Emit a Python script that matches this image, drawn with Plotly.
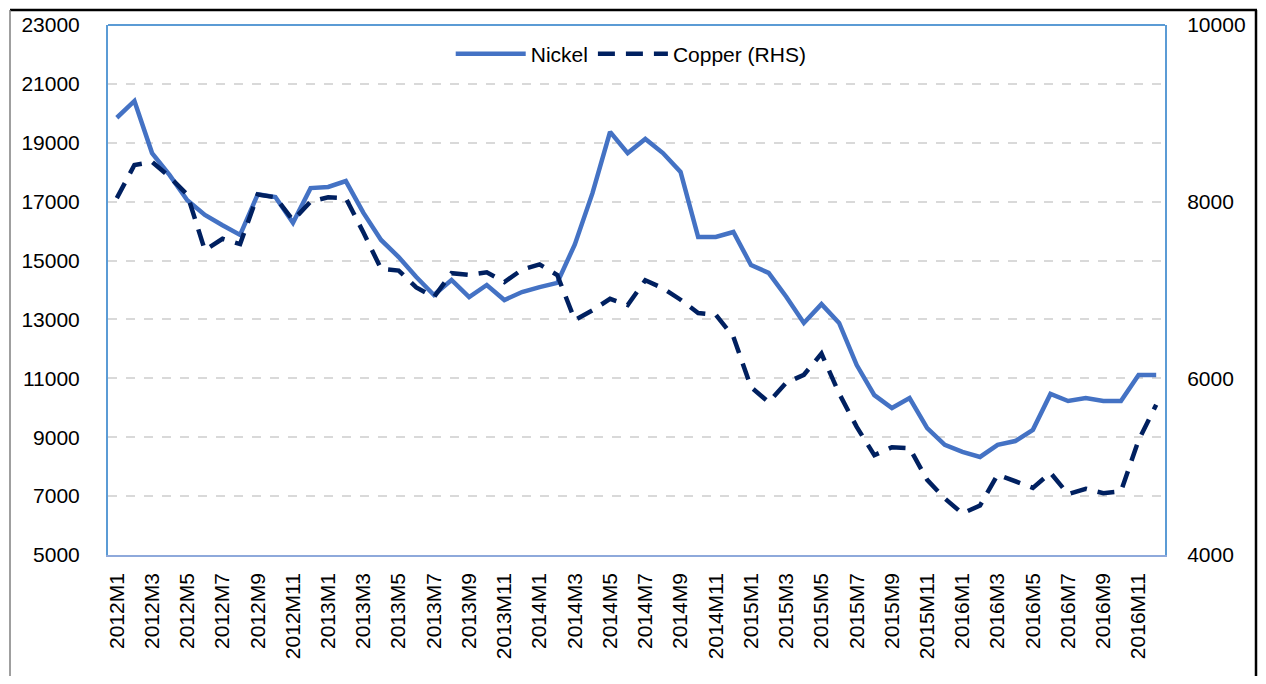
import plotly.graph_objects as go

# monthly labels 2012M1 .. 2016M12
months = [f"{y}M{m}" for y in range(2012, 2017) for m in range(1, 13)]

nickel = [19850, 20420, 18650, 17900, 17050, 16550, 16200, 15870, 17250, 17160,
          16280, 17460, 17500, 17700, 16620, 15700, 15120, 14440, 13830, 14340,
          13760, 14170, 13660, 13930, 14100, 14240, 15550, 17290, 19370, 18650,
          19130, 18650, 18010, 15800, 15800, 15970, 14850, 14580, 13770, 12880,
          13520, 12880, 11450, 10430, 9990, 10330, 9310, 8740, 8500, 8330,
          8740, 8870, 9250, 10470, 10230, 10330, 10230, 10230, 11110, 11110]

copper = [8040, 8415, 8450, 8280, 8080, 7450, 7580, 7520, 8080, 8050,
          7790, 8000, 8050, 8040, 7650, 7240, 7220, 7030, 6920, 7190,
          7170, 7200, 7090, 7230, 7290, 7170, 6660, 6770, 6900, 6830,
          7110, 7020, 6890, 6740, 6720, 6470, 5900, 5730, 5950, 6040,
          6280, 5830, 5450, 5130, 5220, 5210, 4850, 4640, 4470, 4560,
          4910, 4840, 4760, 4930, 4690, 4750, 4700, 4720, 5300, 5700]

fig = go.Figure()
fig.add_trace(go.Scatter(x=months, y=nickel, mode='lines', name='Nickel',
                         line=dict(color='#4472C4', width=4.5)))
fig.add_trace(go.Scatter(x=months, y=copper, mode='lines', name='Copper (RHS)', yaxis='y2',
                         line=dict(color='#002060', width=4.5, dash='17px,11px')))

font = dict(family='Liberation Sans, Arial, sans-serif', size=21, color='#000000')

# page has an 8px body margin, so the figure is laid out 8px smaller/offset
fig.update_layout(
    width=1250, height=668,
    margin=dict(l=100, r=93, t=17, b=121),
    paper_bgcolor='white', plot_bgcolor='white',
    font=font,
    showlegend=True,
    legend=dict(orientation='h', x=0.495, xanchor='center', y=0.945, yanchor='middle',
                font=dict(size=21), bgcolor='rgba(0,0,0,0)', itemwidth=70),
    xaxis=dict(type='category', tickmode='array', tickvals=months[::2], ticktext=months[::2],
               tickangle=-90, showgrid=False, showline=True, linecolor='#8EA9DB', linewidth=1.5,
               mirror=False, ticks='', tickfont=dict(size=21), ticklabelstandoff=8,
               range=[-0.5, len(months) - 0.5], automargin=False),
    yaxis=dict(range=[5000, 23000], dtick=2000, tick0=5000, tickformat='d', showgrid=True,
               gridcolor='#D9D9D9', griddash='dash', gridwidth=1.5, showline=True,
               linecolor='#5B9BD5', linewidth=2, ticks='', tickfont=dict(size=21),
               zeroline=False, ticklabelstandoff=22, automargin=False),
    yaxis2=dict(range=[4000, 10000], dtick=2000, tickformat='d', overlaying='y', side='right',
                showgrid=False, showline=True, linecolor='#5B9BD5', linewidth=2, ticks='',
                zeroline=False, tickfont=dict(size=21), ticklabelstandoff=16, automargin=False),
)

# top border line of plot area
fig.add_shape(type='line', xref='paper', yref='paper', x0=0, x1=1, y0=1, y1=1,
              line=dict(color='#5B9BD5', width=2))

# outer chart frame (page pixel positions -> paper fractions)
def px_x(p):
    return (p - 108) / 1057

def px_y(p):
    return (555 - p) / 530

fig.add_shape(type='line', xref='paper', yref='paper', x0=px_x(10), x1=px_x(1257),
              y0=px_y(10), y1=px_y(10), line=dict(color='black', width=2.5))
fig.add_shape(type='line', xref='paper', yref='paper', x0=px_x(10), x1=px_x(10),
              y0=px_y(10), y1=px_y(690), line=dict(color='#7F7F7F', width=1.5))
fig.add_shape(type='line', xref='paper', yref='paper', x0=px_x(1256), x1=px_x(1256),
              y0=px_y(10), y1=px_y(690), line=dict(color='black', width=2.5))

fig.write_html("out.html")
